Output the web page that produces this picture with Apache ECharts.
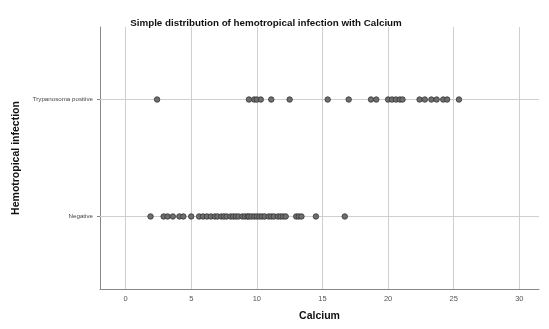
<!DOCTYPE html>
<html><head><meta charset="utf-8">
<script src="https://cdn.jsdelivr.net/npm/echarts@6/dist/echarts.min.js"></script>
<style>html,body{margin:0;padding:0;background:#fff}#c{width:549px;height:329px}</style>
</head><body><div id="c"></div>
<script>
const categories = ['Negative', 'Trypanosoma positive'];
const xTicks = [0, 5, 10, 15, 20, 25, 30];
const negativeValues = [1.9, 2.9, 3.2, 3.6, 4.1, 4.4, 5.0, 5.6, 5.9, 6.2, 6.5, 6.8, 7.0, 7.3, 7.5, 7.7, 8.0, 8.2, 8.4, 8.6, 8.9, 9.1, 9.3, 9.4, 9.6, 9.8, 10.0, 10.2, 10.4, 10.6, 10.9, 11.1, 11.3, 11.6, 11.8, 12.0, 12.2, 13.0, 13.2, 13.4, 14.5, 16.7];
const positiveValues = [2.4, 9.4, 9.8, 10.0, 10.3, 11.1, 12.5, 15.4, 17.0, 18.7, 19.1, 20.0, 20.3, 20.6, 20.9, 21.1, 22.4, 22.8, 23.3, 23.7, 24.2, 24.5, 25.4];

const chart = echarts.init(document.getElementById('c'));
const gridColor = '#cfcfcf';
const font = 'Liberation Sans, Arial';
const pts = negativeValues.map(v => [v, 1]).concat(positiveValues.map(v => [v, 2]));
chart.setOption({
  animation: false,
  title: {
    text: 'Simple distribution of hemotropical infection with Calcium',
    left: 261, top: 13, textAlign: 'center',
    textStyle: {fontFamily: font, fontSize: 9.8, fontWeight: 'bold', color: '#111'}
  },
  grid: {left: 100, right: 10, top: 27, bottom: 40},
  xAxis: {
    type: 'value', min: -1.95, max: 31.5,
    name: 'Calcium', nameLocation: 'middle', nameGap: 22,
    nameTextStyle: {fontFamily: font, fontSize: 10.5, fontWeight: 'bold', color: '#111'},
    axisLine: {show: true, onZero: false, lineStyle: {color: '#888', width: 1}},
    axisTick: {show: false},
    splitLine: {show: false},
    axisLabel: {customValues: xTicks, fontFamily: font, fontSize: 7.5, color: '#555', margin: 6}
  },
  yAxis: {
    type: 'value', min: 0.38, max: 2.62,
    name: 'Hemotropical infection', nameLocation: 'middle', nameGap: 74,
    nameTextStyle: {fontFamily: font, fontSize: 10.5, fontWeight: 'bold', color: '#111'},
    axisLine: {show: true, onZero: false, lineStyle: {color: '#888', width: 1}},
    axisTick: {show: true, customValues: [1, 2], length: 3, lineStyle: {color: '#888'}},
    splitLine: {show: false},
    axisLabel: {customValues: [1, 2], formatter: v => categories[Math.round(v) - 1] || '',
      fontFamily: font, fontSize: 6.2, color: '#444', margin: 7}
  },
  series: [{
    type: 'scatter',
    data: pts,
    symbol: 'circle', symbolSize: 5.5,
    itemStyle: {color: '#6e6e6e', borderColor: '#333', borderWidth: 0.8, opacity: 1},
    markLine: {
      silent: true, symbol: 'none', label: {show: false}, z: 1,
      lineStyle: {color: gridColor, type: 'solid', width: 1},
      data: xTicks.map(t => ({xAxis: t})).concat([{yAxis: 1}, {yAxis: 2}])
    },
    z: 3
  }]
});
</script></body></html>
